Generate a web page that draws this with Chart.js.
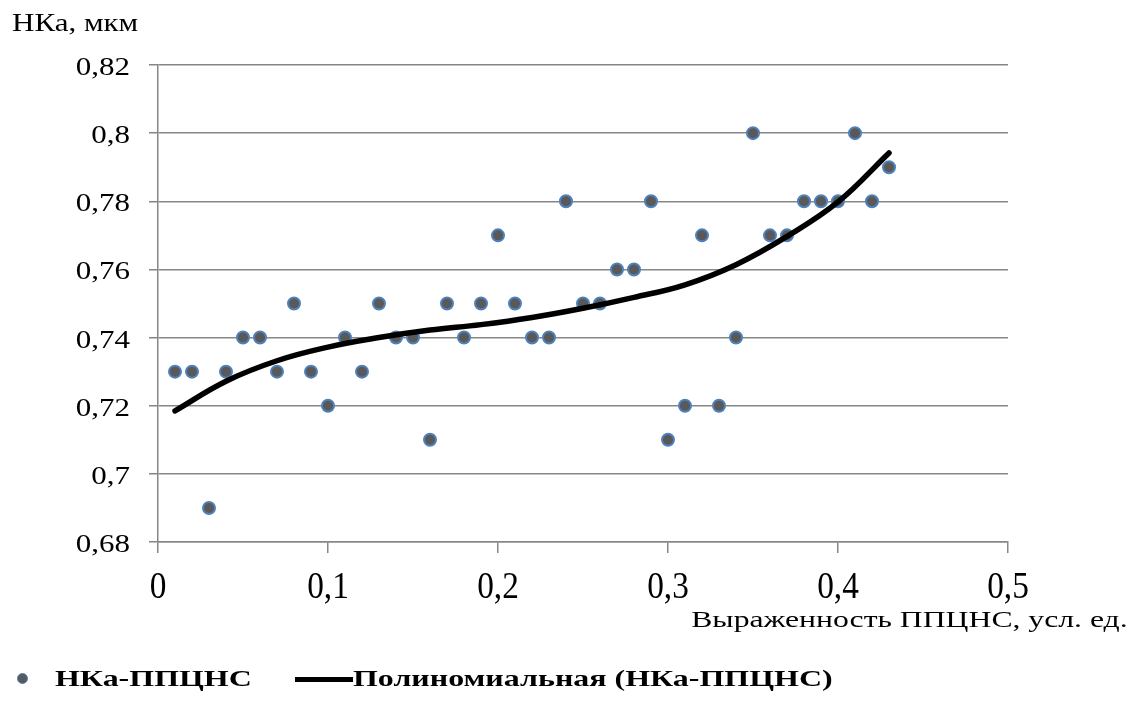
<!DOCTYPE html>
<html>
<head>
<meta charset="utf-8">
<script src="https://cdn.jsdelivr.net/npm/chart.js@4"></script>
<style>
  html, body { margin: 0; padding: 0; background: #fff; }
  #wrap { position: relative; width: 1139px; height: 704px; overflow: hidden; }
  #chart { position: absolute; left: 0; top: 0; }
  .txt { position: absolute; font-family: "Liberation Serif", "Times New Roman", serif; color: #000; white-space: nowrap; line-height: 1; }
  #y-title { left: 12px; top: 10px; font-size: 25px; transform: scaleX(1.24); transform-origin: left top; }
  #x-title { right: 11px; top: 607px; font-size: 24px; transform: scaleX(1.32); transform-origin: right top; }
  .leg { top: 667px; font-size: 23px; font-weight: bold; transform: scaleX(1.39); transform-origin: left top; }
  #leg-dot { position: absolute; left: 17px; top: 673px; width: 9px; height: 9px; border-radius: 50%; background: #595959; border: 1.5px solid #4f81bd; }
  #leg-line { position: absolute; left: 295px; top: 677px; width: 58px; height: 5px; background: #000; }
</style>
</head>
<body>
<div id="wrap">
  <canvas id="chart" width="1139" height="704"></canvas>
  <div class="txt" id="y-title">НКа, мкм</div>
  <div class="txt" id="x-title">Выраженность ППЦНС, усл. ед.</div>
  <div id="leg-dot"></div>
  <div class="txt leg" style="left:55px;">НКа-ППЦНС</div>
  <div id="leg-line"></div>
  <div class="txt leg" style="left:353px;">Полиномиальная (НКа-ППЦНС)</div>
</div>
<script>
// scatter data: выраженность ППЦНС vs НКа
const X_VALUES = [0.01, 0.02, 0.03, 0.04, 0.05, 0.06, 0.07, 0.08, 0.09, 0.10,
                  0.11, 0.12, 0.13, 0.14, 0.15, 0.16, 0.17, 0.18, 0.19, 0.20,
                  0.21, 0.22, 0.23, 0.24, 0.25, 0.26, 0.27, 0.28, 0.29, 0.30,
                  0.31, 0.32, 0.33, 0.34, 0.35, 0.36, 0.37, 0.38, 0.39, 0.40,
                  0.41, 0.42, 0.43];
const Y_VALUES = [0.73, 0.73, 0.69, 0.73, 0.74, 0.74, 0.73, 0.75, 0.73, 0.72,
                  0.74, 0.73, 0.75, 0.74, 0.74, 0.71, 0.75, 0.74, 0.75, 0.77,
                  0.75, 0.74, 0.74, 0.78, 0.75, 0.75, 0.76, 0.76, 0.78, 0.71,
                  0.72, 0.77, 0.72, 0.74, 0.80, 0.77, 0.77, 0.78, 0.78, 0.78,
                  0.80, 0.78, 0.79];

// trend line
const TREND_X = [0.01, 0.04, 0.07, 0.10, 0.13, 0.16, 0.19, 0.22, 0.25, 0.28, 0.31, 0.34, 0.37, 0.40, 0.43];
const TREND_Y = [0.7185, 0.7272, 0.7332, 0.7372, 0.7400, 0.7422, 0.7438, 0.7459, 0.7486, 0.7518,
                 0.7555, 0.7614, 0.7697, 0.7798, 0.7942];

const X_TICKS = [0, 0.1, 0.2, 0.3, 0.4, 0.5];
const X_TICK_LABELS = ["0", "0,1", "0,2", "0,3", "0,4", "0,5"];
const Y_TICKS = [0.68, 0.70, 0.72, 0.74, 0.76, 0.78, 0.80, 0.82];
const Y_TICK_LABELS = ["0,68", "0,7", "0,72", "0,74", "0,76", "0,78", "0,8", "0,82"];

const FONT = "'Liberation Serif', 'Times New Roman', serif";
const GRID = "#878787";

// draws tick labels stretched like in the original picture
const tickLabels = {
  id: "tickLabels",
  afterDraw(chart) {
    const ctx = chart.ctx;
    const xs = chart.scales.x, ys = chart.scales.y;
    ctx.save();
    ctx.fillStyle = "#000";
    ctx.textBaseline = "alphabetic";

    ctx.font = "25px " + FONT;
    ctx.textAlign = "right";
    Y_TICKS.forEach((v, i) => {
      const py = ys.getPixelForValue(v);
      ctx.save();
      ctx.translate(130, py + 10);
      ctx.scale(1.24, 1);
      ctx.fillText(Y_TICK_LABELS[i], 0, 0);
      ctx.restore();
    });

    ctx.font = "37px " + FONT;
    ctx.textAlign = "center";
    X_TICKS.forEach((v, i) => {
      const px = xs.getPixelForValue(v);
      ctx.save();
      ctx.translate(px, 598);
      ctx.scale(0.9, 1);
      ctx.fillText(X_TICK_LABELS[i], 0, 0);
      ctx.restore();
    });
    ctx.restore();
  }
};

const scatterPts = X_VALUES.map((x, i) => ({ x, y: Y_VALUES[i] }));
const trendPts   = TREND_X.map((x, i) => ({ x, y: TREND_Y[i] }));

new Chart(document.getElementById("chart"), {
  type: "scatter",
  data: {
    datasets: [
      {
        label: "НКа-ППЦНС",
        data: scatterPts,
        pointRadius: 6,
        pointBorderWidth: 2,
        pointBackgroundColor: "#595959",
        pointBorderColor: "#4f81bd",
        order: 2,
      },
      {
        label: "Полиномиальная (НКа-ППЦНС)",
        type: "line",
        data: trendPts,
        borderColor: "#000",
        borderWidth: 5.5,
        pointRadius: 0,
        fill: false,
        tension: 0.4,
        borderCapStyle: "round",
        order: 1,
      },
    ],
  },
  plugins: [tickLabels],
  options: {
    responsive: false,
    animation: false,
    layout: { padding: { left: 0, top: 65, right: 131, bottom: 0 } },
    plugins: { legend: { display: false }, tooltip: { enabled: false } },
    scales: {
      x: {
        type: "linear",
        min: 0, max: 0.5,
        afterBuildTicks: s => { s.ticks = X_TICKS.map(v => ({ value: v })); },
        afterFit: s => { s.height = 704 - 542; },
        ticks: { display: false },
        grid: { drawOnChartArea: false, drawTicks: true, tickLength: 11, color: GRID, lineWidth: 1.5 },
        border: { color: GRID, width: 1.5 },
      },
      y: {
        type: "linear",
        min: 0.68, max: 0.82,
        afterBuildTicks: s => { s.ticks = Y_TICKS.map(v => ({ value: v })); },
        afterFit: s => { s.width = 158; },
        ticks: { display: false },
        grid: { drawOnChartArea: true, drawTicks: true, tickLength: 9, color: GRID, lineWidth: 1.5 },
        border: { color: GRID, width: 1.5 },
      },
    },
  },
});
</script>
</body>
</html>
